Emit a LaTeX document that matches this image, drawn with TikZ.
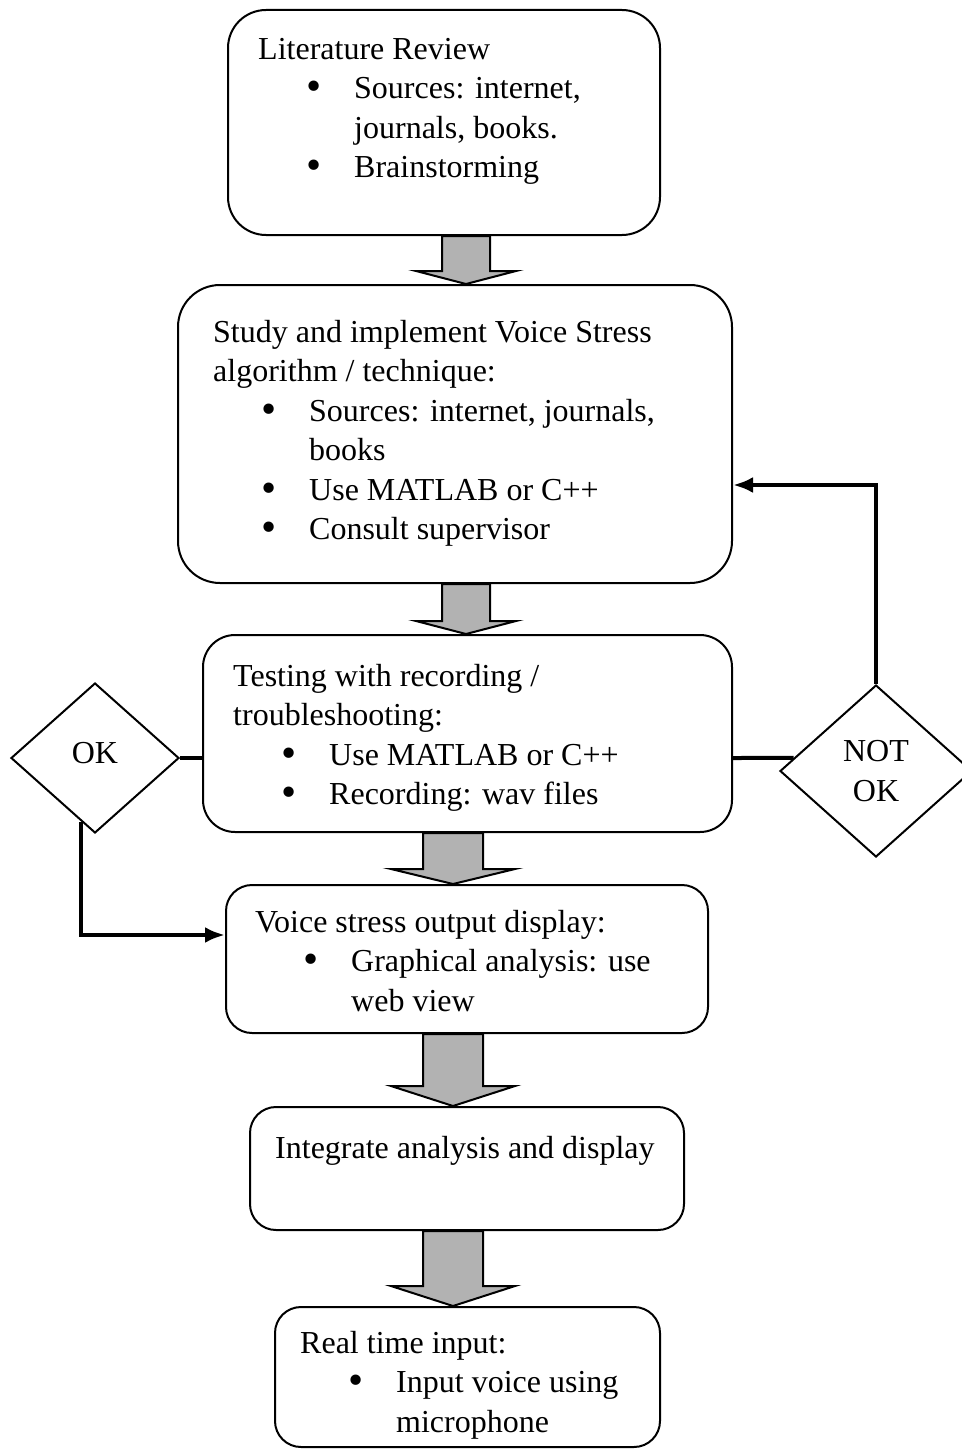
\documentclass[tikz,border=0pt]{standalone}
\usepackage{fontspec}
\setmainfont{Liberation Serif}
\usetikzlibrary{arrows.meta,positioning,shapes.geometric,calc}

% bullet line and continuation line inside a box
\newcommand{\bul}{\hspace*{48pt}\makebox[48pt][l]{\smash{\raisebox{-1.8pt}{\scalebox{1.35}{\textbullet}}}}}
\newcommand{\cont}{\hspace*{96pt}}
% grey block arrow: upper box, lower box, column, half shaft, half head, head depth
\newcommand{\blockdown}[6]{%
  \draw[blockarr] ($(#1.south -| #3)+(-#4,0)$) -- ($(#1.south -| #3)+(#4,0)$)
    -- ($(#2.north -| #3)+(#4,-#6)$) -- ($(#2.north -| #3)+(#5,-#6)$)
    -- (#2.north -| #3) -- ($(#2.north -| #3)+(-#5,-#6)$)
    -- ($(#2.north -| #3)+(-#4,-#6)$) -- cycle;}

\begin{document}
\begin{tikzpicture}[
            x=1pt, y=-1pt,
            box/.style={rectangle, draw, line width=2pt, fill=white, inner sep=0pt},
            txt/.style={anchor=north west, inner sep=0pt, align=left, font=\fontsize{32}{39.5}\selectfont},
            decision/.style={diamond, draw, line width=2pt, fill=white, inner sep=0pt, align=center, font=\fontsize{32}{39.5}\selectfont},
            link/.style={line width=4pt},
            arrow/.style={link, -{Latex[length=20pt,width=16pt]}},
            blockarr/.style={draw, line width=2pt, fill=gray!60, line join=miter}
        ]
            \useasboundingbox (0,0) rectangle (961,1450);

            % --- BOXES ---
            \node[box, rounded corners=38pt, minimum width=432pt, minimum height=225pt] (lit) at (444,122.5) {};
            \node[box, rounded corners=42pt, minimum width=554pt, minimum height=298pt] (study) at (455,434) {};
            \node[box, rounded corners=32pt, minimum width=529pt, minimum height=197pt] (test) at (467.5,733.5) {};
            \node[box, rounded corners=26pt, minimum width=482pt, minimum height=148pt] (voice) at (467,959) {};
            \node[box, rounded corners=26pt, minimum width=434pt, minimum height=123pt] (integ) at (467,1168.5) {};
            \node[box, rounded corners=26pt, minimum width=385pt, minimum height=140pt] (real) at (467.5,1377) {};

            % --- TEXTS ---
            \node[txt] (littxt) at (258,38) {Literature Review\\ \bul Sources: internet,\\ \cont journals, books.\\ \bul Brainstorming};
            \node[txt] (studytxt) at (213,320) {Study and implement Voice Stress\\ algorithm / technique:\\ \bul Sources: internet, journals,\\ \cont books\\ \bul Use MATLAB or C++\\ \bul Consult supervisor};
            \node[txt] (testtxt) at (233,664) {Testing with recording /\\ troubleshooting:\\ \bul Use MATLAB or C++\\ \bul Recording: wav files};
            \node[txt] (voicetxt) at (255,910) {Voice stress output display:\\ \bul Graphical analysis: use\\ \cont web view};
            \node[txt] (integtxt) at (275,1136) {Integrate analysis and display};
            \node[txt] (realtxt) at (300,1331) {Real time input:\\ \bul Input voice using\\ \cont microphone};

            % --- DECISIONS ---
            \node[decision, minimum width=168pt, minimum height=150pt] (ok) at (95,758) {\raisebox{10pt}{OK}};
            \node[decision, minimum width=192pt, minimum height=172pt] (notok) at (876,771) {NOT\\OK};

            % --- BLOCK ARROWS ---
            \coordinate (c1) at (466,0);
            \coordinate (c2) at (453,0);
            \blockdown{lit}{study}{c1}{24}{50}{13}
            \blockdown{study}{test}{c1}{24}{50}{13}
            \blockdown{test}{voice}{c2}{30}{62}{15}
            \blockdown{voice}{integ}{c2}{30}{62}{20}
            \blockdown{integ}{real}{c2}{30}{62}{20}

            % --- LINKS ---
            \draw[link] (ok.east) -- (ok.east -| test.west);
            \draw[arrow] (ok.258) |- ([yshift=24pt]voice.west);
            \draw[link] ([yshift=-24.5pt]test.east) -- (notok.171);
            \draw[arrow] (notok.north) |- ([yshift=-51pt]study.east);
        \end{tikzpicture}
\end{document}
